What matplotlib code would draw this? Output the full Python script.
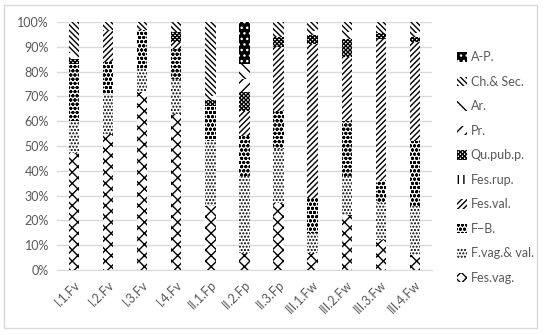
import matplotlib
matplotlib.use('Agg')
import matplotlib.pyplot as plt
import matplotlib.patches as mpatches
import numpy as np

plt.rcParams['font.family'] = ['Lato', 'DejaVu Sans']
plt.rcParams['hatch.linewidth'] = 1.0

# site labels along the x axis
sites = ['I.1.Fv', 'I.2.Fv', 'I.3.Fv', 'I.4.Fv', 'II.1.Fp', 'II.2.Fp',
         'II.3.Fp', 'III.1.Fw', 'III.2.Fw', 'III.3.Fw', 'III.4.Fw']

# share (%) of each community, bottom to top of the stack
fes_vag = [47, 55, 72, 63, 26, 7, 27, 7, 22, 12, 6]
f_vag_val = [13, 16, 9, 14, 26, 31, 22, 8, 16, 15, 20]
f_b = [23, 13, 16, 12, 14, 16, 15, 14, 22, 9, 26]
fes_val = [0, 13, 0, 3, 0, 10, 26, 62, 26, 57, 40]
fes_rup = [0, 0, 0, 0, 0, 0, 0, 0, 0, 0, 0]
qu_pub = [2, 0, 0, 4, 2.5, 8, 4, 4, 7, 2.5, 2]
pr = [0, 0, 0, 0, 0, 5, 0, 0, 0, 0, 0]
ar = [2.5, 0, 0, 0, 1.5, 6, 0, 1.5, 3, 0, 1.5]
ch_sec = [12.5, 3, 3, 4, 30, 0, 6, 3.5, 4, 4.5, 4.5]
a_p = [0, 0, 0, 0, 0, 17, 0, 0, 0, 0, 0]

series = [
    ('Fes.vag.', fes_vag, 'white', 'black', 'xxx'),
    ('F.vag.& val.', f_vag_val, 'white', 'black', '.....'),
    ('F\u2013B.', f_b, 'white', 'black', 'oooo'),
    ('Fes.val.', fes_val, 'white', 'black', '//////'),
    ('Fes.rup.', fes_rup, 'white', 'black', '|||'),
    ('Qu.pub.p.', qu_pub, 'white', 'black', 'xxxxxxxx'),
    ('Pr.', pr, 'white', 'black', '///'),
    ('Ar.', ar, 'white', 'black', '\\\\\\'),
    ('Ch.& Sec.', ch_sec, 'white', 'black', '\\\\\\\\\\\\'),
    ('A-P.', a_p, 'black', 'white', '...'),
]

fig = plt.figure(figsize=(5.5, 3.35), dpi=100)
ax = fig.add_axes([0.104, 0.194, 0.681, 0.740])

x = np.arange(len(sites))
bottom = np.zeros(len(sites))
handles = []
for name, vals, fc, hc, hatch in series:
    vals = np.array(vals, dtype=float)
    ax.bar(x, vals, 0.3, bottom=bottom, color=fc, edgecolor=hc,
           hatch=hatch, linewidth=0, zorder=3)
    handles.append(mpatches.Patch(facecolor=fc, edgecolor=hc, hatch=hatch,
                                  linewidth=0, label=name))
    bottom += vals

ax.set_xlim(-0.5, len(sites) - 0.5)
ax.set_ylim(0, 100)
ax.set_yticks(np.arange(0, 101, 10))
ax.set_yticklabels([f'{v}%' for v in range(0, 101, 10)])
ax.set_xticks(x)
ax.set_xticklabels(sites, rotation=45, ha='right', rotation_mode='anchor')
ax.tick_params(colors='#595959', labelsize=9, length=0, pad=6)
ax.grid(axis='y', color='#d9d9d9', linewidth=1, zorder=0)
for s in ['top', 'right', 'left']:
    ax.spines[s].set_visible(False)
ax.spines['bottom'].set_color('#d9d9d9')

leg = fig.legend(handles[::-1], [h.get_label() for h in handles[::-1]],
                 loc='center left', bbox_to_anchor=(0.81, 0.50),
                 frameon=False, fontsize=9, handlelength=0.8,
                 handleheight=0.8, handletextpad=0.3, labelspacing=1.0)
for t in leg.get_texts():
    t.set_color('#595959')

fig.patches.append(mpatches.Rectangle((4 / 550, 1 - 328 / 335), 533 / 550, 323 / 335,
                                      transform=fig.transFigure, fill=False,
                                      edgecolor='#d9d9d9', linewidth=1))

fig.savefig('out.png', dpi=100)
